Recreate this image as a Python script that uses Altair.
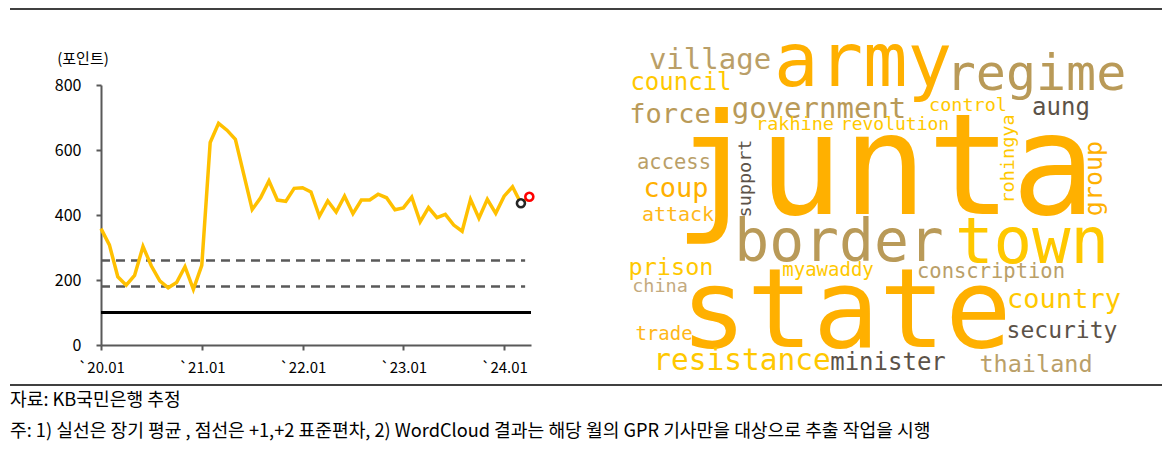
import json
import altair as alt
import pandas as pd

# ---------------- data ----------------
GPR = [358, 308, 210, 184, 214, 303, 243, 197, 176, 192, 241, 171,
       245, 623, 682, 661, 633, 525, 417, 453, 505, 446, 442, 482,
       484, 471, 396, 443, 409, 458, 404, 446, 446, 464, 453, 416,
       422, 455, 379, 423, 392, 402, 369, 350, 448, 390, 448, 405,
       458, 487, 436, 456]
X_TICK_POS = [0, 12, 24, 36, 48]
X_TICK_LABELS = ["`20.01", "`21.01", "`22.01", "`23.01", "`24.01"]
Y_TICKS = [0, 200, 400, 600, 800]
REF_Y = [100, 180, 260]
REF_KIND = ["mean", "sd", "sd"]
HILITE_IDX = [50, 51]
HILITE_COLOR = ["#262626", "#FF0000"]

WORDS = ["army", "regime", "village", "council", "government", "force",
         "control", "aung", "rakhine", "revolution", "access", "support",
         "junta", "coup", "rohingya", "group", "attack", "border", "town",
         "prison", "myawaddy", "conscription", "china", "state", "country",
         "security", "trade", "resistance", "minister", "thailand"]
WORD_X = [863, 1036, 710, 681, 819, 670, 968, 1061, 795, 895, 674, 751,
          885, 676, 1013.7, 1102, 678, 839, 1032, 671, 828, 991, 660, 846,
          1064, 1062, 664, 742, 888, 1036]
WORD_Y = [86, 90, 69, 90, 118, 123, 111, 115, 130, 130, 169, 178.5,
          214, 197, 159, 178.5, 221, 261, 263, 275, 276, 278, 292, 347,
          308, 338, 340, 370, 370, 372]
WORD_SIZE = [74, 50, 29, 24, 29, 27, 18.5, 24, 18.5, 18, 20.5, 18.5,
             140, 27, 18.5, 25, 20, 58, 64, 23.5, 19, 20.5, 18.5, 110,
             27, 23, 19, 29.5, 24, 23.5]
ORANGE, ORANGE2, YELLOW = "#FFB000", "#FFB719", "#FFC800"
TAN, TAN2, LTAN, DARK = "#B99A58", "#BA9F68", "#C4AA7E", "#5C5248"
WORD_COLOR = [ORANGE, TAN, TAN2, YELLOW, TAN, TAN, YELLOW, DARK, YELLOW,
              YELLOW, TAN2, DARK, ORANGE, ORANGE, YELLOW, ORANGE, ORANGE2,
              TAN, YELLOW, YELLOW, YELLOW, TAN2, LTAN, ORANGE, YELLOW, DARK,
              ORANGE2, YELLOW, DARK, TAN2]
WORD_ANGLE = [0] * len(WORDS)
for w in ("support", "rohingya", "group"):
    WORD_ANGLE[WORDS.index(w)] = 270

Y_TITLE = "(포인트)"
NOTE_SOURCE = "자료: KB국민은행 추정"
NOTE_MAIN = "주: 1) 실선은 장기 평균 , 점선은 +1,+2 표준편차, 2) WordCloud 결과는 해당 월의 GPR 기사만을 대상으로 추출 작업을 시행"

# ---------------- layout ----------------
W, H = 1154, 433
KFONT = "Noto Sans CJK KR"
AXC = "#595959"

df = pd.DataFrame({"idx": list(range(len(GPR))), "v": GPR})
hl = pd.DataFrame({"idx": HILITE_IDX, "v": [GPR[i] for i in HILITE_IDX],
                   "col": HILITE_COLOR})
refs = pd.DataFrame({"y": REF_Y, "kind": REF_KIND,
                     "x0": [0, 0, 0], "x1": [51.2, 50.5, 50.5]})

xs = alt.Scale(domain=[0, 51.2], range=[93, 523], nice=False, zero=False)
ys = alt.Scale(domain=[0, 800], range=[337, 77], nice=False)

label_expr = f"{json.dumps(X_TICK_LABELS)}[indexof({json.dumps(X_TICK_POS)}, datum.value)]"
X_AX = alt.Axis(values=X_TICK_POS, labelExpr=label_expr, grid=False, offset=-96,
                domainColor=AXC, domainWidth=2, tickColor=AXC, tickWidth=2,
                tickSize=5, labelFont=KFONT, labelFontSize=15, labelColor="#000",
                labelPadding=10, title=None, labelFlush=False, labelOverlap=False)
Y_AX = alt.Axis(values=Y_TICKS, grid=False, offset=-93, domainColor=AXC,
                domainWidth=2, tickColor=AXC, tickWidth=2, tickSize=5,
                labelFont=KFONT, labelFontSize=16, labelColor="#000",
                labelPadding=15, title=None)

base_refs = alt.Chart(refs)
solid = base_refs.transform_filter(alt.datum.kind == "mean").mark_rule(
    color="#000000", strokeWidth=3).encode(
    x=alt.X("x0:Q", scale=xs, axis=X_AX), x2="x1:Q",
    y=alt.Y("y:Q", scale=ys, axis=Y_AX))
dashed = base_refs.transform_filter(alt.datum.kind == "sd").mark_rule(
    color=AXC, strokeWidth=2.5, strokeDash=[9, 6]).encode(
    x=alt.X("x0:Q", scale=xs, axis=X_AX), x2="x1:Q",
    y=alt.Y("y:Q", scale=ys, axis=Y_AX))
line = alt.Chart(df).mark_line(color="#FFC000", strokeWidth=3.5,
                               strokeJoin="miter").encode(
    x=alt.X("idx:Q", scale=xs, axis=X_AX),
    y=alt.Y("v:Q", scale=ys, axis=Y_AX))
pts = alt.Chart(hl).mark_point(shape="circle", filled=False, fill="#FFFFFF",
                               fillOpacity=1, size=64, strokeWidth=2.6,
                               opacity=1).encode(
    x=alt.X("idx:Q", scale=xs, axis=X_AX),
    y=alt.Y("v:Q", scale=ys, axis=Y_AX),
    stroke=alt.Stroke("col:N", scale=None))
line_group = alt.layer(solid, dashed, line, pts)

cloud_df = pd.DataFrame({"w": WORDS, "cx": WORD_X, "cy": WORD_Y,
                         "fs": WORD_SIZE, "col": WORD_COLOR, "ang": WORD_ANGLE})
cloud = alt.Chart(cloud_df).mark_text(font="DejaVu Sans Mono", align="center",
                                      baseline="alphabetic").encode(
    x=alt.X("cx:Q", scale=alt.Scale(domain=[8, 8 + W], range=[0, W], nice=False, zero=False), axis=None),
    y=alt.Y("cy:Q", scale=alt.Scale(domain=[8, 8 + H], range=[0, H], nice=False, zero=False), axis=None),
    text="w:N",
    size=alt.Size("fs:Q", scale=None),
    color=alt.Color("col:N", scale=None),
    angle=alt.Angle("ang:Q", scale=None))

one = pd.DataFrame({"t": [Y_TITLE]})
ytitle = alt.Chart(one).mark_text(font=KFONT, fontSize=15, color="#000",
                                  align="center", baseline="middle").encode(
    x=alt.value(75), y=alt.value(51), text="t:N")
notes = pd.DataFrame({"t": [NOTE_SOURCE, NOTE_MAIN], "row": [0, 1]})
note1 = alt.Chart(notes).transform_filter(alt.datum.row == 0).mark_text(
    font=KFONT, fontSize=18.2, color="#000", align="left", baseline="middle").encode(
    x=alt.value(2), y=alt.value(393), text="t:N")
note2 = alt.Chart(notes).transform_filter(alt.datum.row == 1).mark_text(
    font=KFONT, fontSize=18.2, color="#000", align="left", baseline="middle").encode(
    x=alt.value(2), y=alt.value(424), text="t:N")
rule_top = alt.Chart(one).mark_rule(color="#000", strokeWidth=1.5).encode(
    x=alt.value(2), x2=alt.value(1156), y=alt.value(1))
rule_bot = alt.Chart(one).mark_rule(color="#000", strokeWidth=1.5).encode(
    x=alt.value(2), x2=alt.value(1156), y=alt.value(377))

chart = alt.layer(line_group, cloud, ytitle, note1, note2, rule_top, rule_bot).resolve_scale(
    x="independent", y="independent").properties(
    width=W, height=H, padding=0, autosize=alt.AutoSizeParams(type="none")
).configure_view(stroke=None)

chart.save("out.html", embed_options={"renderer": "svg", "actions": False})
